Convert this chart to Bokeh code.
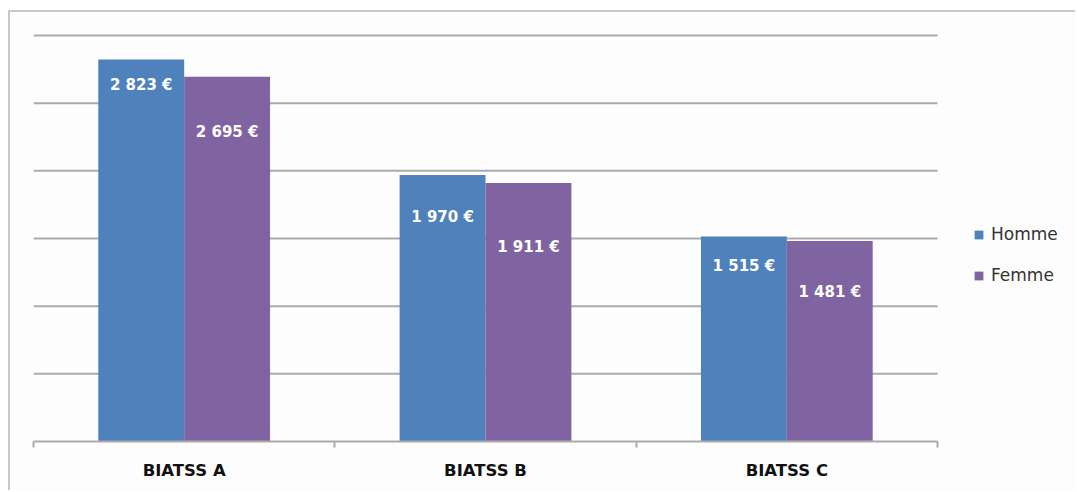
import numpy as np
from bokeh.plotting import figure
from bokeh.models import (Range1d, LinearAxis, FixedTicker, Legend, LegendItem,
                          ColumnDataSource)
from bokeh.core.properties import value
from bokeh.embed import file_html
from bokeh.resources import INLINE

# ---- data ----
categories = ["BIATSS A", "BIATSS B", "BIATSS C"]
homme = [2823, 1970, 1515]
femme = [2695, 1911, 1481]
series_names = ["Homme", "Femme"]
grid_ticks = [500, 1000, 1500, 2000, 2500, 3000]

# label placement (pixels below bar top)
homme_label_drop = [26, 42, 30]
femme_label_drop = [55, 64, 51]

BLUE = "#4F81BD"
PURPLE = "#8064A2"
GRID = "#ABABAB"

def fmt(v):
    return f"{v:,}".replace(",", " ") + " €"

n = len(categories)
centers = np.arange(n) + 0.5
bw = 0.285

src_h = ColumnDataSource(dict(x=centers - bw / 2, top=homme,
                              lab=[fmt(v) for v in homme], dy=homme_label_drop))
src_f = ColumnDataSource(dict(x=centers + bw / 2, top=femme,
                              lab=[fmt(v) for v in femme], dy=femme_label_drop))

# figure sits at page (10, 12) after an 8/10px margin plus a 2px border
W, H = 1067, 480
plot_px = 904            # width of the category area
frame_px = W - 23        # frame runs to the right edge (legend lives inside it)
px_per_unit = 406 / 3000.0
y_top = 3000 + 4 / px_per_unit
p = figure(width=W, height=H, output_backend="svg", toolbar_location=None,
           x_range=Range1d(0, n * frame_px / plot_px), y_range=Range1d(0, y_top),
           x_axis_location=None, y_axis_location=None,
           min_border_left=23, min_border_right=0,
           min_border_top=19, min_border_bottom=H - 429)
for g in list(p.grid):
    g.visible = False
p.outline_line_color = None
p.background_fill_color = "#FDFDFD"
p.border_fill_color = "#FDFDFD"
p.styles = {"margin-left": "8px", "margin-top": "10px",
            "border-left": "2px solid #C8C8C8", "border-top": "2px solid #C8C8C8"}

# horizontal gridlines limited to the category area
p.segment(x0=[0] * len(grid_ticks), x1=[n] * len(grid_ticks), y0=grid_ticks, y1=grid_ticks,
          line_color=GRID, line_width=2)

rh = p.vbar(x="x", top="top", width=bw, bottom=0, source=src_h,
            fill_color=BLUE, line_color=None)
rf = p.vbar(x="x", top="top", width=bw, bottom=0, source=src_f,
            fill_color=PURPLE, line_color=None)

for src in (src_h, src_f):
    p.text(x="x", y="top", text="lab", y_offset="dy", source=src,
           text_align="center", text_baseline="middle",
           text_font=value("DejaVu Sans"), text_font_style="bold",
           text_font_size="15px", text_color="white")

xaxis = LinearAxis(bounds=(0, n),
                   ticker=FixedTicker(ticks=list(centers), minor_ticks=list(range(n + 1))),
                   major_label_overrides={float(c): name for c, name in zip(centers, categories)})
xaxis.axis_line_color = GRID
xaxis.axis_line_width = 2
xaxis.major_tick_line_color = None
xaxis.major_tick_out = 0
xaxis.major_tick_in = 0
xaxis.minor_tick_line_color = GRID
xaxis.minor_tick_line_width = 2
xaxis.minor_tick_out = 6
xaxis.minor_tick_in = 0
xaxis.major_label_standoff = 13
xaxis.major_label_text_font = "DejaVu Sans"
xaxis.major_label_text_font_style = "bold"
xaxis.major_label_text_font_size = "16.5px"
xaxis.major_label_text_color = "#111111"
p.add_layout(xaxis, "below")

legend = Legend(items=[LegendItem(label=series_names[0], renderers=[rh]),
                       LegendItem(label=series_names[1], renderers=[rf])],
                location=(940, 156), padding=0, margin=0, spacing=21,
                glyph_width=11, glyph_height=11, label_height=20,
                label_standoff=7,
                label_text_font="DejaVu Sans", label_text_font_size="17px",
                label_text_color="#333333",
                background_fill_alpha=0, border_line_color=None)
p.add_layout(legend, "center")

open("out.html", "w").write(file_html(p, INLINE))
